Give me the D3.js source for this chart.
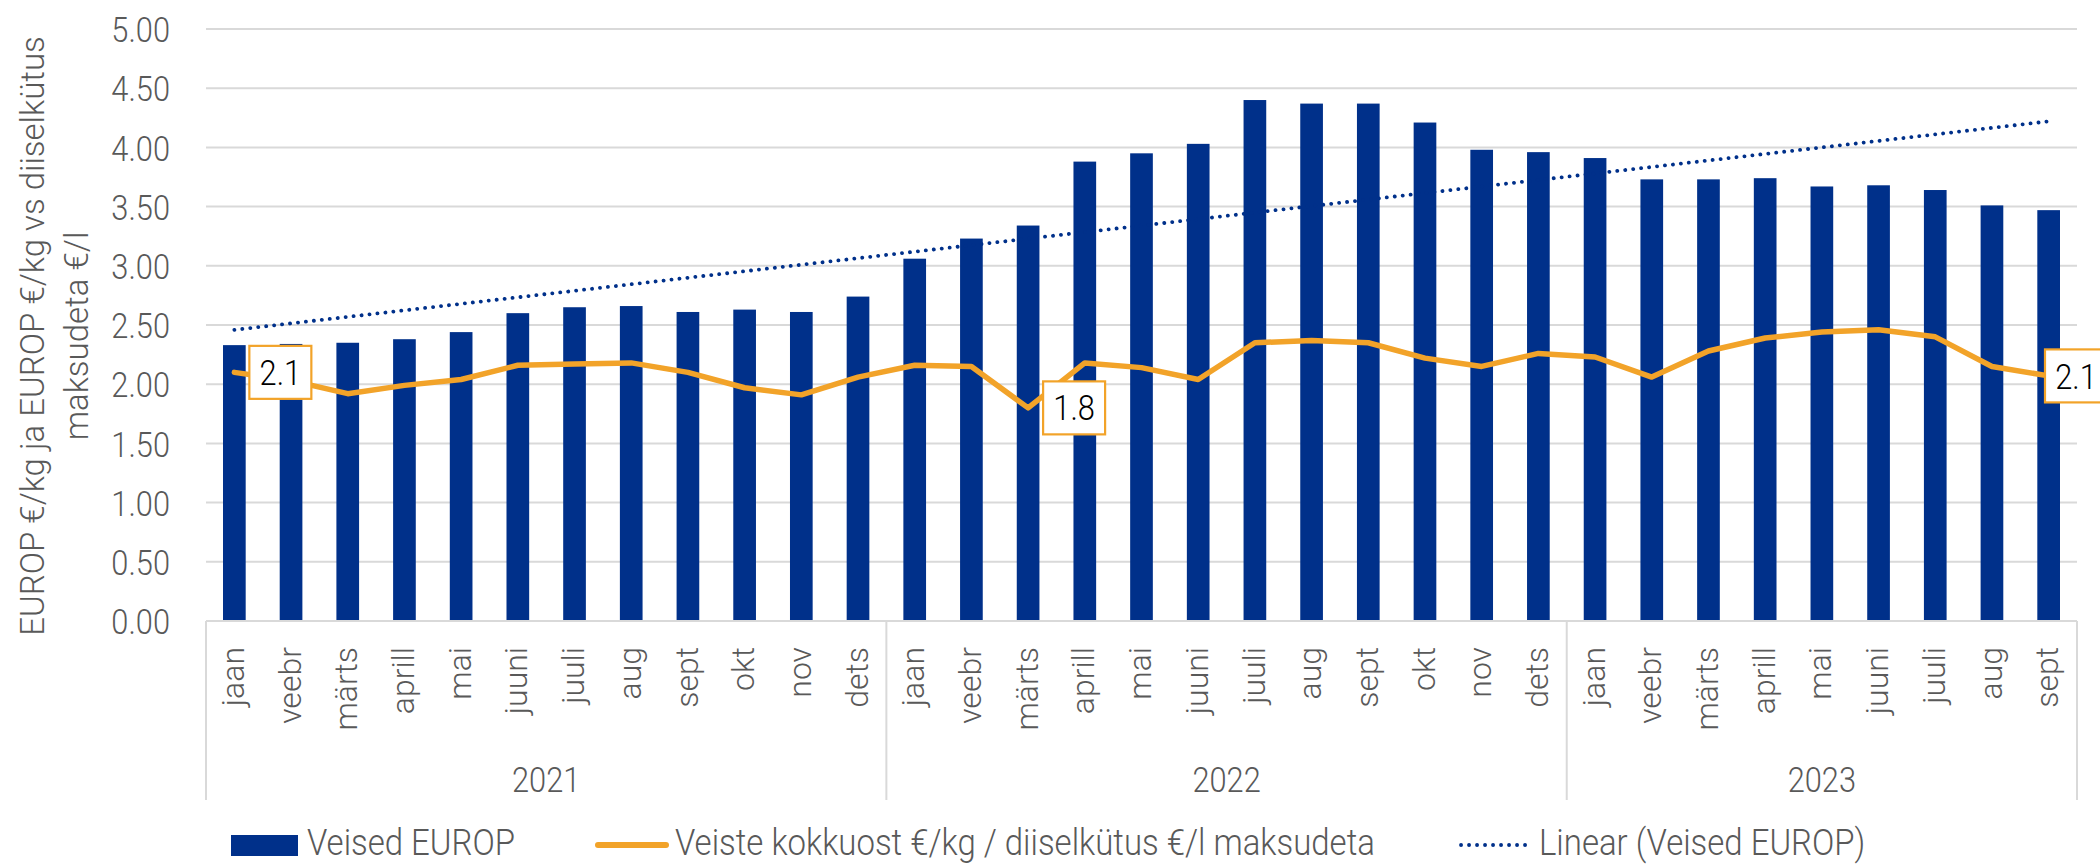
<!DOCTYPE html>
<html>
<head>
<meta charset="utf-8">
<script src="https://cdn.jsdelivr.net/npm/d3@7"></script>
<style>
  body { margin: 0; background: #fff; }
  svg { display: block; font-family: Roboto, "Noto Sans", sans-serif; font-weight: 300; }
</style>
</head>
<body>
<svg id="chart" width="2100" height="864"></svg>
<script>
let years = ["2021", "2022", "2023"]
let monthNames = ["jaan", "veebr", "märts", "aprill", "mai", "juuni", "juuli", "aug", "sept", "okt", "nov", "dets"]
let monthsPerYear = [12, 12, 9]

// Veised EUROP, €/kg
let veised = [
    2.33, 2.34, 2.35, 2.38, 2.44, 2.60, 2.65, 2.66, 2.61, 2.63, 2.61, 2.74,
    3.06, 3.23, 3.34, 3.88, 3.95, 4.03, 4.40, 4.37, 4.37, 4.21, 3.98, 3.96,
    3.91, 3.73, 3.73, 3.74, 3.67, 3.68, 3.64, 3.51, 3.47
]
// Veiste kokkuost €/kg / diiselkütus €/l maksudeta
let suhe = [
    2.10, 2.03, 1.92, 1.99, 2.04, 2.16, 2.17, 2.18, 2.10, 1.97, 1.91, 2.06,
    2.16, 2.15, 1.80, 2.18, 2.14, 2.04, 2.35, 2.37, 2.35, 2.22, 2.15, 2.26,
    2.23, 2.06, 2.28, 2.39, 2.44, 2.46, 2.40, 2.15, 2.07
]
let labelled = [0, 14, 32]
let yTicks = [0, 0.5, 1, 1.5, 2, 2.5, 3, 3.5, 4, 4.5, 5]
let yTitle = ["EUROP €/kg ja EUROP €/kg vs diiselkütus", "maksudeta €/l"]
let legendNames = ["Veised EUROP", "Veiste kokkuost €/kg / diiselkütus €/l maksudeta", "Linear (Veised EUROP)"]

let BLUE = "#00308A", ORANGE = "#F2A329", GRID = "#D9D9D9", TEXT = "#595959"
let marginLeft = 206, plotRight = 2077, plotTop = 29, plotBottom = 621

let svg = d3.select("#chart")
let keys = years.flatMap((y, i) => monthNames.slice(0, monthsPerYear[i]).map(m => y + " " + m))
let x = d3.scaleBand(keys, [marginLeft, plotRight]).padding(0),
    y = d3.scaleLinear([0, 5], [plotBottom, plotTop])
let cx = k => x(k) + x.bandwidth() / 2

// squeeze text like the condensed face of the original
function narrow(sel, k) {
    sel.each(function () {
        let len = this.getComputedTextLength()
        d3.select(this).attr("textLength", len * k).attr("lengthAdjust", "spacingAndGlyphs")
    })
    return sel
}

// grid
svg.append("g")
    .selectAll("line")
    .data(yTicks.slice(1))
    .join("line")
    .attr("x1", marginLeft).attr("x2", plotRight)
    .attr("y1", d => y(d)).attr("y2", d => y(d))
    .attr("stroke", GRID).attr("stroke-width", 2)

// y axis labels
let yAxis = svg.append("g")
    .attr("transform", `translate(170, 0)`)
    .call(d3.axisLeft(y).tickValues(yTicks).tickFormat(d3.format(".2f")).tickSize(0).tickPadding(0))
yAxis.select(".domain").remove()
yAxis.selectAll("text")
    .attr("fill", TEXT)
    .attr("font-size", 35)
    .attr("font-family", "Roboto, sans-serif")
    .attr("dy", "0.36em")
narrow(yAxis.selectAll("text"), 0.88)

// y title
svg.append("g")
    .selectAll("text")
    .data(yTitle)
    .join("text")
    .attr("transform", (d, i) => `translate(${44 + i * 44}, 336) rotate(-90)`)
    .attr("text-anchor", "middle")
    .attr("font-size", 33)
    .attr("fill", TEXT)
    .text(d => d)

// bars
let bw = x.bandwidth() * 0.4
svg.append("g")
    .selectAll("rect")
    .data(keys)
    .join("rect")
    .attr("x", d => cx(d) - bw / 2)
    .attr("width", bw)
    .attr("y", (d, i) => y(veised[i]))
    .attr("height", (d, i) => y(0) - y(veised[i]))
    .attr("fill", BLUE)

// category axis
let axis = svg.append("g")
axis.append("line")
    .attr("x1", marginLeft).attr("x2", plotRight)
    .attr("y1", y(0)).attr("y2", y(0))
    .attr("stroke", GRID).attr("stroke-width", 2)
let bounds = [keys[0]].concat(keys.filter(k => k.endsWith(" jaan")).slice(1))
axis.selectAll(".sep")
    .data(bounds)
    .join("line")
    .attr("class", "sep")
    .attr("x1", d => x(d)).attr("x2", d => x(d))
    .attr("y1", y(0)).attr("y2", 800)
    .attr("stroke", GRID).attr("stroke-width", 2)
axis.append("line")
    .attr("x1", plotRight).attr("x2", plotRight)
    .attr("y1", y(0)).attr("y2", 800)
    .attr("stroke", GRID).attr("stroke-width", 2)
axis.selectAll(".month")
    .data(keys)
    .join("text")
    .attr("class", "month")
    .attr("transform", d => `translate(${cx(d)}, 647) rotate(-90)`)
    .attr("dy", "0.3em")
    .attr("text-anchor", "end")
    .attr("font-size", 32)
    .attr("fill", TEXT)
    .text(d => d.split(" ")[1])
let yearText = axis.selectAll(".year")
    .data(years)
    .join("text")
    .attr("class", "year")
    .attr("x", d => {
        let ks = keys.filter(k => k.startsWith(d))
        return (x(ks[0]) + x(ks[ks.length - 1]) + x.bandwidth()) / 2
    })
    .attr("y", 792)
    .attr("text-anchor", "middle")
    .attr("font-size", 35)
    .attr("fill", TEXT)
    .text(d => d)
narrow(yearText, 0.88)

// linear trend of the bars
let n = veised.length,
    mi = d3.mean(d3.range(n)),
    mv = d3.mean(veised),
    slope = d3.sum(veised, (v, i) => (i - mi) * (v - mv)) / d3.sum(d3.range(n), i => (i - mi) * (i - mi)),
    trend = i => mv + slope * (i - mi)
svg.append("path")
    .attr("d", d3.line()([[cx(keys[0]), y(trend(0))], [cx(keys[n - 1]), y(trend(n - 1))]]))
    .attr("stroke", BLUE)
    .attr("stroke-width", 3.8)
    .attr("stroke-linecap", "round")
    .attr("stroke-dasharray", "0.1 7.9")
    .attr("fill", "none")

// ratio line
let line = d3.line()
    .x(d => cx(d))
    .y((d, i) => y(suhe[i]))
svg.append("path")
    .attr("d", line(keys))
    .attr("fill", "none")
    .attr("stroke", ORANGE)
    .attr("stroke-width", 5.5)
    .attr("stroke-linejoin", "round")
    .attr("stroke-linecap", "round")

// data labels
let lab = svg.append("g")
    .selectAll("g")
    .data(labelled)
    .join("g")
    .attr("transform", i => `translate(${Math.min(cx(keys[i]) + 15, 2045)}, ${y(suhe[i])})`)
lab.append("rect")
    .attr("x", 0).attr("y", -26.5)
    .attr("width", 62).attr("height", 53)
    .attr("fill", "#fff")
    .attr("stroke", ORANGE)
    .attr("stroke-width", 2.2)
let labText = lab.append("text")
    .attr("x", 31)
    .attr("dy", "0.36em")
    .attr("text-anchor", "middle")
    .attr("font-size", 35)
    .attr("fill", "#000")
    .text(i => d3.format(".1f")(suhe[i]))
narrow(labText, 0.88)

// legend
let leg = svg.append("g")
leg.append("rect")
    .attr("x", 231).attr("y", 835)
    .attr("width", 67).attr("height", 21)
    .attr("fill", BLUE)
leg.append("line")
    .attr("x1", 598).attr("x2", 666)
    .attr("y1", 845).attr("y2", 845)
    .attr("stroke", ORANGE).attr("stroke-width", 6).attr("stroke-linecap", "round")
leg.append("line")
    .attr("x1", 1461).attr("x2", 1531)
    .attr("y1", 845).attr("y2", 845)
    .attr("stroke", BLUE).attr("stroke-width", 3.8)
    .attr("stroke-linecap", "round").attr("stroke-dasharray", "0.1 7.9")
let legText = leg.selectAll("text")
    .data(legendNames)
    .join("text")
    .attr("x", (d, i) => [307, 675, 1539][i])
    .attr("y", 855)
    .attr("font-size", 36)
    .attr("fill", TEXT)
    .text(d => d)
narrow(legText, 0.915)
</script>
</body>
</html>
